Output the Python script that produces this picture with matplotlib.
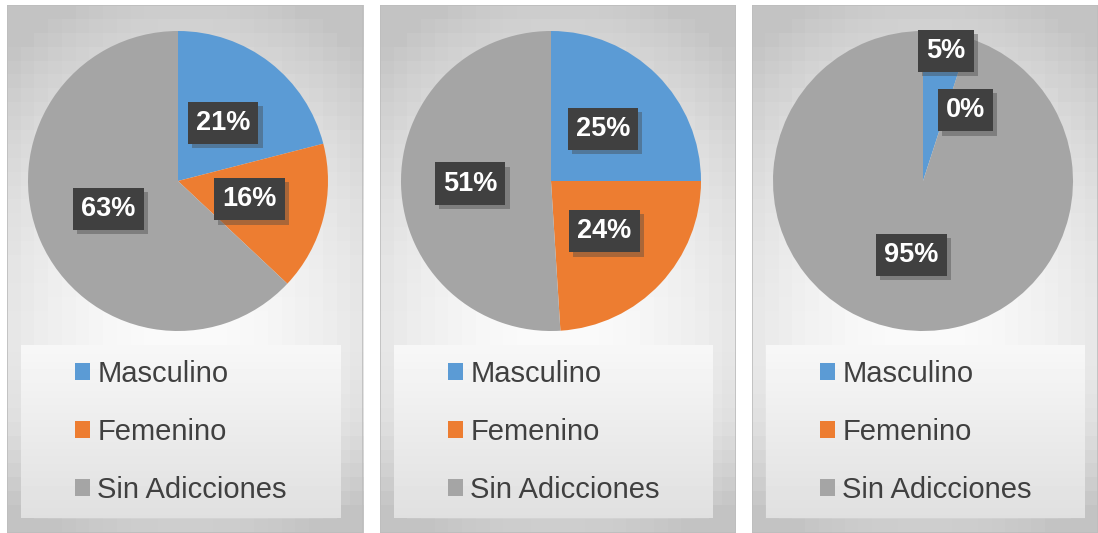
import matplotlib.pyplot as plt
import matplotlib.patheffects as pe
import numpy as np
from matplotlib.patches import Rectangle

W, H = 1098, 533

categories = ["Masculino", "Femenino", "Sin Adicciones"]
colors = ["#5B9BD5", "#ED7D31", "#A5A5A5"]

panel1_values = [21, 16, 63]
panel2_values = [25, 24, 51]
panel3_values = [5, 0, 95]
panel_values = [panel1_values, panel2_values, panel3_values]

# panel frames in pixels (left, right), pie centre x
panel_x = [(7, 363), (380, 736), (752, 1098)]
pie_cx = [178, 551, 923]
pie_cy = 181
pie_r = 150

# label placement: (distance as fraction of radius, angle override in degrees or None)
label_pos = [
    [(0.49, None), (0.49, None), (0.50, 202)],
    [(0.49, None), (0.49, None), (0.54, None)],
    [(0.88, 80), (0.55, 59), (0.50, None)],
]

plt.rcParams["font.family"] = ["Liberation Sans", "DejaVu Sans"]

fig = plt.figure(figsize=(W / 100, H / 100), dpi=100)
fig.patch.set_facecolor("white")


def px_rect(x0, y0, x1, y1):
    # pixel box (y from top) -> figure fraction rect
    return [x0 / W, 1 - y1 / H, (x1 - x0) / W, (y1 - y0) / H]


for i, vals in enumerate(panel_values):
    x0, x1 = panel_x[i]
    y0, y1 = 5, 533

    # ---- background: blocky radial gradient like the original chart area ----
    bg = fig.add_axes(px_rect(x0, y0, x1, y1))
    bg.axis("off")
    nx, ny = 26, 38
    gx = np.linspace(x0, x1, nx)
    gy = np.linspace(y0, y1, ny)
    XX, YY = np.meshgrid(gx, gy)
    fx, fy = (x0 + x1) / 2, 340
    ry = np.where(YY < fy, 335, 195)
    d2 = ((XX - fx) / 271) ** 2 + ((YY - fy) / ry) ** 2
    val = np.clip(250 - 45 * d2, 196, 250) / 255
    bg.imshow(val, cmap="gray", vmin=0, vmax=1, extent=(x0, x1, y1, y0),
              interpolation="nearest", aspect="auto", zorder=0)
    # lighter legend rectangle
    lx0, lx1, ly0, ly1 = x0 + 14, (x1 - 23 if i < 2 else x1 - 13), 345, 518
    lg = np.linspace(247, 224, 40)[:, None] / 255
    bg.imshow(lg, cmap="gray", vmin=0, vmax=1, extent=(lx0, lx1, ly1, ly0),
              interpolation="bilinear", aspect="auto", zorder=1)
    bg.add_patch(Rectangle((x0, y0), x1 - x0, y1 - y0, fill=False,
                           edgecolor="#bdbdbd", linewidth=1.2, zorder=2))
    bg.set_xlim(x0, x1)
    bg.set_ylim(y1, y0)

    # ---- pie ----
    cx = pie_cx[i]
    ax = fig.add_axes(px_rect(cx - pie_r, pie_cy - pie_r, cx + pie_r, pie_cy + pie_r))
    wedges, _ = ax.pie(vals, colors=colors, startangle=90, counterclock=False,
                       wedgeprops=dict(linewidth=0))
    ax.set_xlim(-1, 1)
    ax.set_ylim(-1, 1)
    ax.set_aspect("equal")
    ax.axis("off")

    for w, v, (dist, ang) in zip(wedges, vals, label_pos[i]):
        a = ang if ang is not None else (w.theta1 + w.theta2) / 2
        tx = dist * np.cos(np.radians(a))
        ty = dist * np.sin(np.radians(a))
        t = ax.text(tx, ty, f"{v}%", ha="center", va="center", fontsize=19.5,
                    fontweight="bold", color="white",
                    bbox=dict(boxstyle="square,pad=0.3", facecolor="#404040",
                              edgecolor="none"), zorder=4)
        t.get_bbox_patch().set_path_effects([
            pe.SimplePatchShadow(offset=(3, -3), shadow_rgbFace="#444444", alpha=0.4),
            pe.Normal(),
        ])

    # ---- legend ----
    fig.legend(wedges, categories, loc="upper left",
               bbox_to_anchor=((x0 + 68) / W, 1 - 360 / H),
               frameon=False, fontsize=21, labelcolor="#404040",
               handlelength=0.52, handleheight=0.52, handletextpad=0.25,
               labelspacing=1.03, borderpad=0, borderaxespad=0)

fig.savefig("out.png", dpi=100, facecolor="white")
